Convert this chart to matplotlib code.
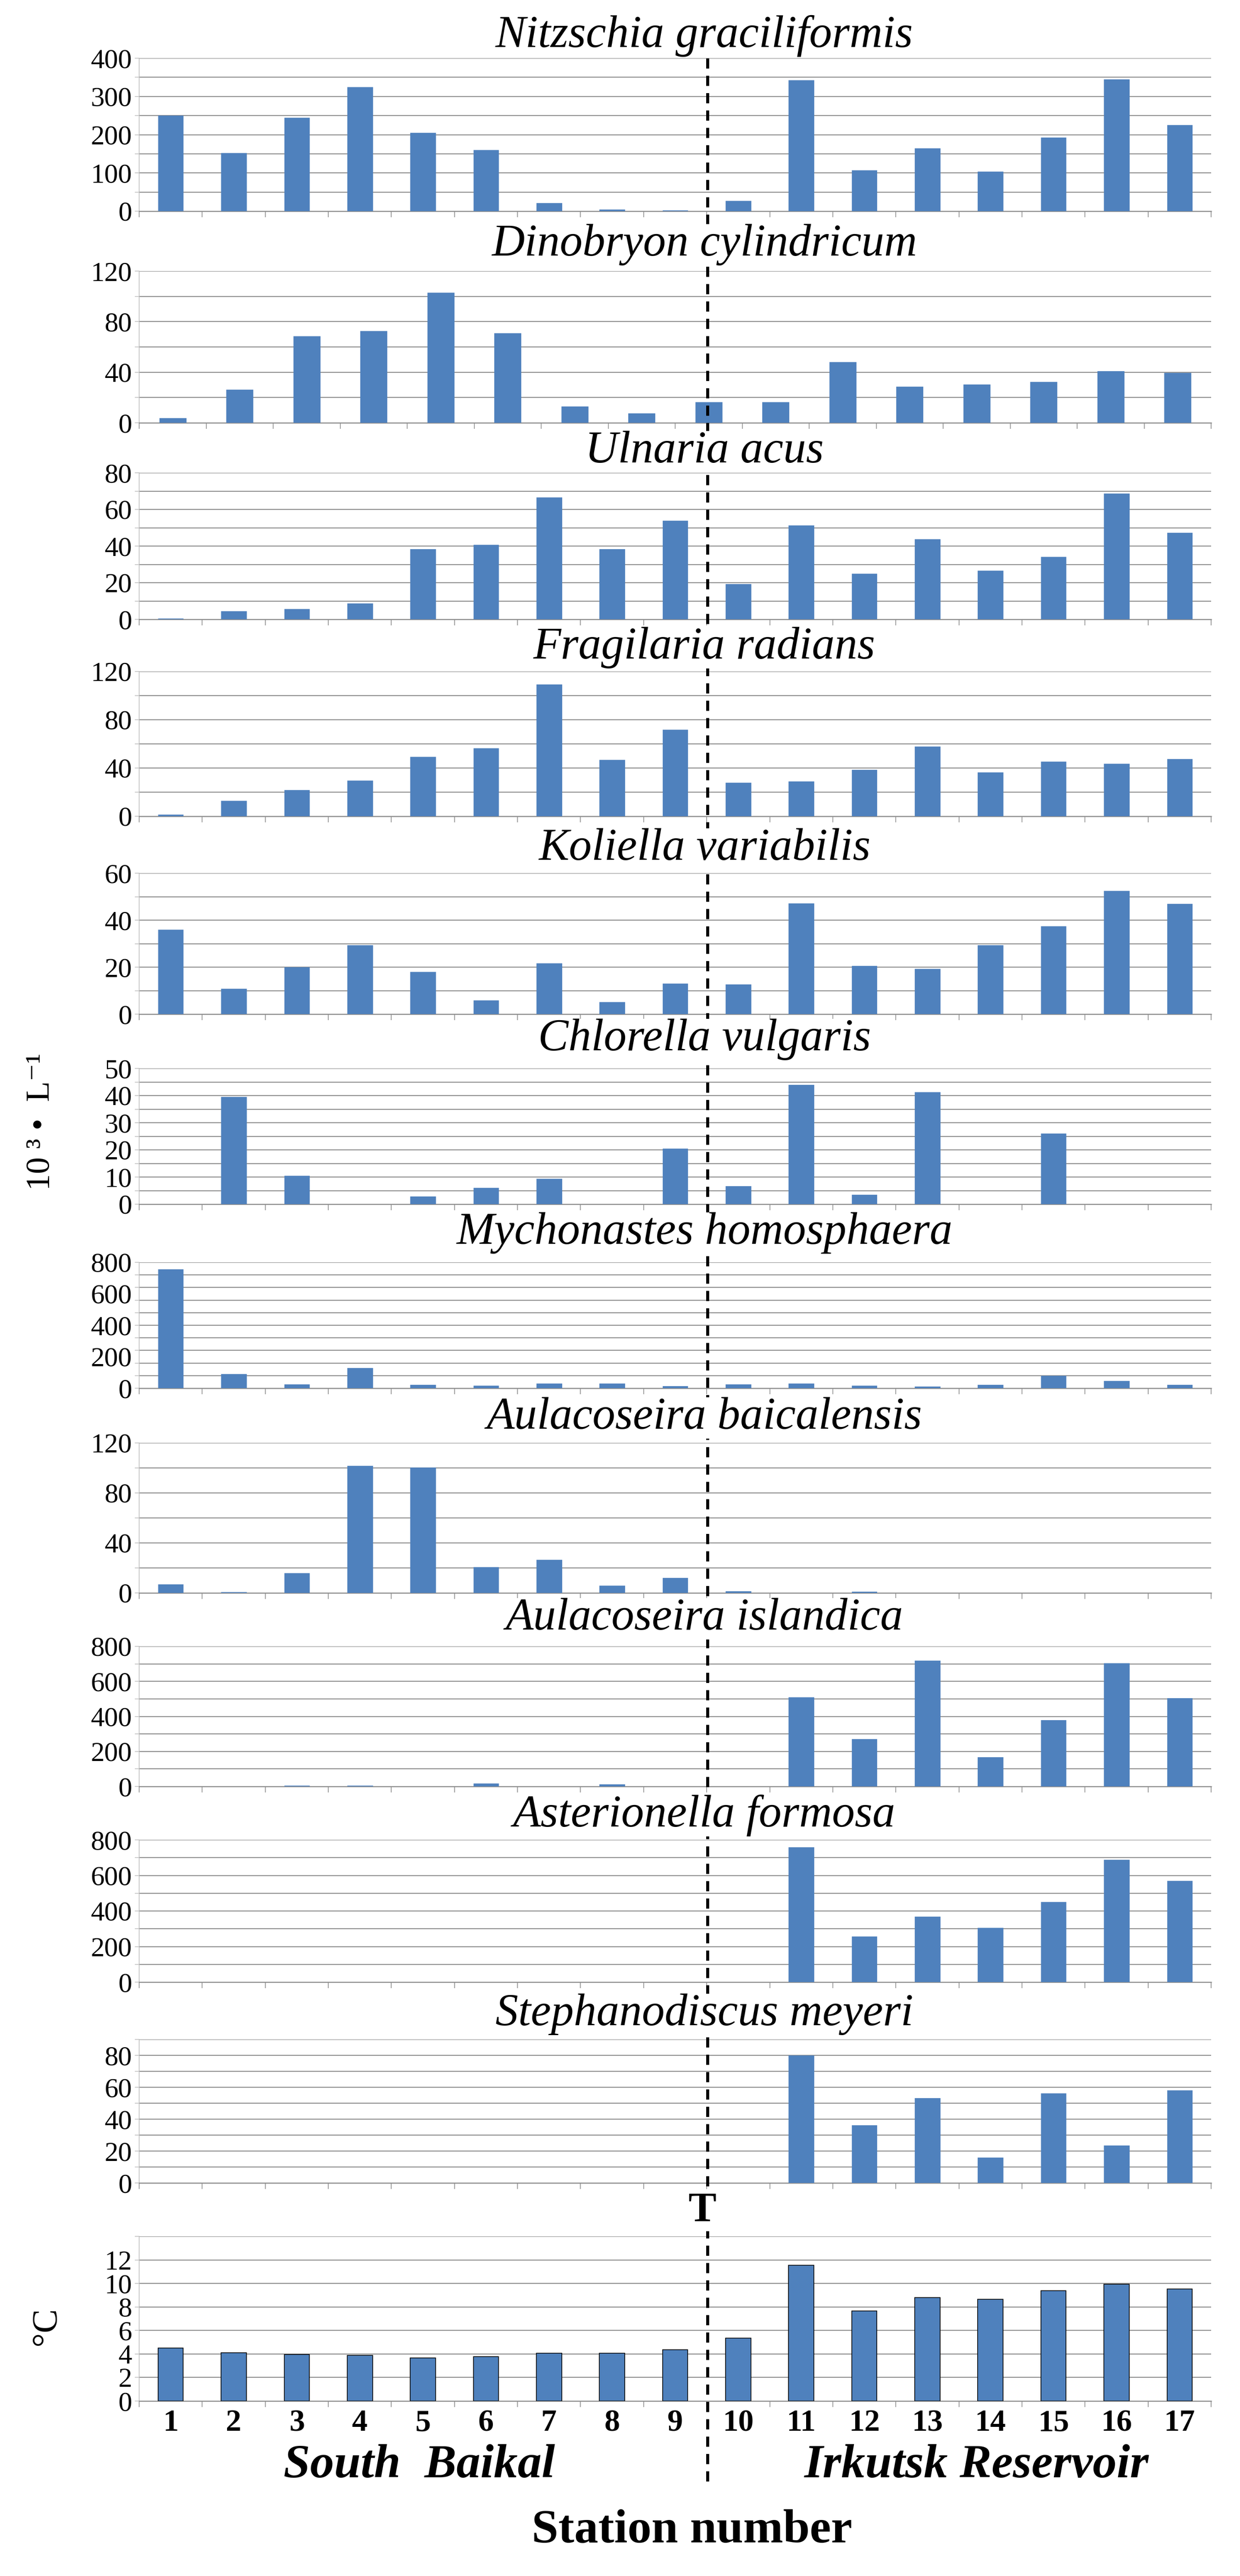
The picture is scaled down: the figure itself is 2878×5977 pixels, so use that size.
import numpy as np
import matplotlib
matplotlib.use("Agg")
import matplotlib.pyplot as plt
from matplotlib.lines import Line2D
from matplotlib.transforms import ScaledTranslation

plt.rcParams['font.family'] = ['Liberation Serif', 'DejaVu Serif']

# ---- data (10^3 cells per litre) ----
stations = [1, 2, 3, 4, 5, 6, 7, 8, 9, 10, 11, 12, 13, 14, 15, 16, 17]

nitzschia = [250, 152, 245, 324, 205, 160, 21, 4, 2, 27, 343, 107, 165, 104, 193, 345, 225]
dinobryon = [3.7, 26.4, 68.6, 72.5, 103, 71, 13, 7.6, 16.3, 16.3, 48, 28.8, 30.3, 32.5, 41, 39.4]
ulnaria = [0.4, 4.4, 5.7, 8.6, 38.4, 40.8, 66.6, 38.4, 53.8, 19.3, 51.4, 25, 43.7, 26.5, 34.2, 68.6, 47.2]
fragilaria = [1.3, 13, 21.8, 29.8, 49.3, 56.4, 109.2, 46.7, 71.8, 27.9, 28.8, 38.7, 58, 36.3, 45.4, 43.7, 47.4]
koliella = [36, 10.8, 20, 29.4, 18, 5.9, 21.6, 5.1, 13, 12.7, 47.2, 20.6, 19.3, 29.4, 37.5, 52.4, 47]
chlorella = [0, 39.6, 10.4, 0, 2.8, 6, 9.4, 0, 20.4, 6.6, 44, 3.5, 41.3, 0, 26, 0, 0]
mychonastes = [756, 90, 25, 130, 22, 16, 30, 30, 13, 25, 30, 16, 10, 22, 79, 47, 22]
a_baicalensis = [7, 0.7, 15.8, 101.8, 100.2, 20.7, 26.6, 5.9, 11.9, 1.5, 0, 0.9, 0, 0, 0, 0, 0]
a_islandica = [0, 0, 5, 5, 0, 17, 0, 12.6, 0, 0, 509, 270, 718, 167, 380, 703, 505]
asterionella = [0, 0, 0, 0, 0, 0, 0, 0, 0, 0, 758, 256, 368, 305, 451, 688, 569]
stephanodiscus = [0, 0, 0, 0, 0, 0, 0, 0, 0, 0, 80, 36.1, 53.2, 15.9, 56.1, 23.4, 58.1]
temperature = [4.52, 4.12, 3.94, 3.89, 3.67, 3.77, 4.05, 4.05, 4.35, 5.35, 11.53, 7.66, 8.79, 8.64, 9.40, 9.92, 9.52]

species = ["Nitzschia graciliformis", "Dinobryon cylindricum", "Ulnaria acus",
           "Fragilaria radians", "Koliella variabilis", "Chlorella vulgaris",
           "Mychonastes homosphaera", "Aulacoseira baicalensis", "Aulacoseira islandica",
           "Asterionella formosa", "Stephanodiscus meyeri"]
series = [nitzschia, dinobryon, ulnaria, fragilaria, koliella, chlorella,
          mychonastes, a_baicalensis, a_islandica, asterionella, stephanodiscus]
# y axis: (max, gridline step, label step)
yaxes = [(400, 50, 100), (120, 20, 40), (80, 10, 20), (120, 20, 40), (60, 10, 20),
         (50, 5, 10), (800, 80, 200), (120, 20, 40), (800, 100, 200), (800, 100, 200),
         (90, 10, 20)]

# ---- layout in pixels (top, bottom of each plot area; title centre) ----
W, H = 2878, 5977
LEFT, RIGHT = 323, 2811
boxes = [(135, 490), (629, 981), (1097, 1437), (1558, 1894), (2026, 2353), (2479, 2794),
         (2929, 3221), (3348, 3696), (3820, 4145), (4269, 4599), (4732, 5065)]
title_y = [83, 568, 1048, 1503, 1970, 2412, 2861, 3290, 3756, 4212, 4674]
temp_box = (5189, 5571)

BLUE = '#4F81BD'
GRID = '#8C8C8C'
SERIF = ['Liberation Serif', 'DejaVu Serif']

fig = plt.figure(figsize=(W / 100, H / 100), dpi=100)
shift_down = ScaledTranslation(0, -10 / 100, fig.dpi_scale_trans)


def make_ax(top, bottom):
    return fig.add_axes([LEFT / W, 1 - bottom / H, (RIGHT - LEFT) / W, (bottom - top) / H])


def style(ax, values, ymax, gstep, lstep, lmax=None, edge=None):
    n = len(values)
    x = np.arange(1, n + 1)
    ax.bar(x, values, width=0.4, color=BLUE,
           edgecolor=edge if edge else BLUE, linewidth=1.2 if edge else 0.5, zorder=3)
    ax.set_xlim(0.5, n + 0.5)
    ax.set_ylim(0, ymax)
    grid = np.arange(gstep, ymax + 0.001, gstep)
    ax.hlines(grid, 0.5, n + 0.5, colors=GRID, linewidth=1.6, zorder=1)
    for s in ['top', 'right']:
        ax.spines[s].set_visible(False)
    ax.spines['left'].set_color('#BFBFBF')
    ax.spines['left'].set_linewidth(1.2)
    ax.spines['bottom'].set_color(GRID)
    ax.spines['bottom'].set_linewidth(1.8)
    if lmax is None:
        lmax = ymax
    yt = np.arange(0, lmax + 0.001, lstep)
    ax.set_yticks(yt, labels=['%g' % v for v in yt], fontsize=46, fontfamily=SERIF)
    for lab in ax.get_yticklabels():
        lab.set_transform(lab.get_transform() + shift_down)
    ax.yaxis.remove_overlapping_locs = False
    ax.set_yticks(np.concatenate([[0], grid]), minor=True)
    ax.tick_params(axis='y', which='major', length=0, pad=12)
    ax.tick_params(axis='y', which='minor', length=7, color='#BFBFBF', width=1.2)
    ax.set_xticks(np.arange(0.5, n + 1, 1), minor=True)
    ax.tick_params(axis='x', which='minor', length=10, color=GRID, width=1.2)
    ax.set_xticks(x, labels=[''] * n)
    ax.tick_params(axis='x', which='major', length=0)


for name, vals, (ymax, gstep, lstep), (top, bottom), ty in zip(species, series, yaxes, boxes, title_y):
    ax = make_ax(top, bottom)
    style(ax, vals, ymax, gstep, lstep)
    fig.text(1635 / W, 1 - ty / H, name, ha='center', va='center', fontsize=76,
             style='italic', zorder=6,
             bbox=dict(facecolor='white', edgecolor='none', pad=0))

# temperature panel
axt = make_ax(*temp_box)
style(axt, temperature, 14, 2, 2, lmax=12, edge='black')
axt.set_xticks(np.arange(1, 18), labels=[str(s) for s in stations], fontsize=52,
               fontweight='bold', fontfamily=SERIF)
axt.tick_params(axis='x', which='major', pad=14)

fig.text(108 / W, 1 - 5398 / H, '°C', ha='center', va='center', rotation=90, fontsize=60)

fig.text(1630 / W, 1 - 5130 / H, 'T', ha='center', va='center', fontsize=70,
         fontweight='bold', zorder=6,
         bbox=dict(facecolor='white', edgecolor='none', pad=2))

fig.text(973 / W, 1 - 5721 / H, 'South  Baikal', ha='center', va='center',
         fontsize=80, fontweight='bold', style='italic')
fig.text(2266 / W, 1 - 5721 / H, 'Irkutsk Reservoir', ha='center', va='center',
         fontsize=80, fontweight='bold', style='italic')
fig.text(1606 / W, 1 - 5872 / H, 'Station number', ha='center', va='center',
         fontsize=80, fontweight='bold')

fig.text(95 / W, 1 - 2603 / H, '10 ³ •  L⁻¹', ha='center', va='center', rotation=90,
         fontsize=56)

# boundary between South Baikal and Irkutsk Reservoir
xline = 1642 / W
fig.add_artist(Line2D([xline, xline], [1 - 135 / H, 1 - 5766 / H], transform=fig.transFigure,
                      color='black', linewidth=5, linestyle=(0, (3.4, 2.4)), zorder=5))

fig.savefig('out.png', dpi=100, facecolor='white')
